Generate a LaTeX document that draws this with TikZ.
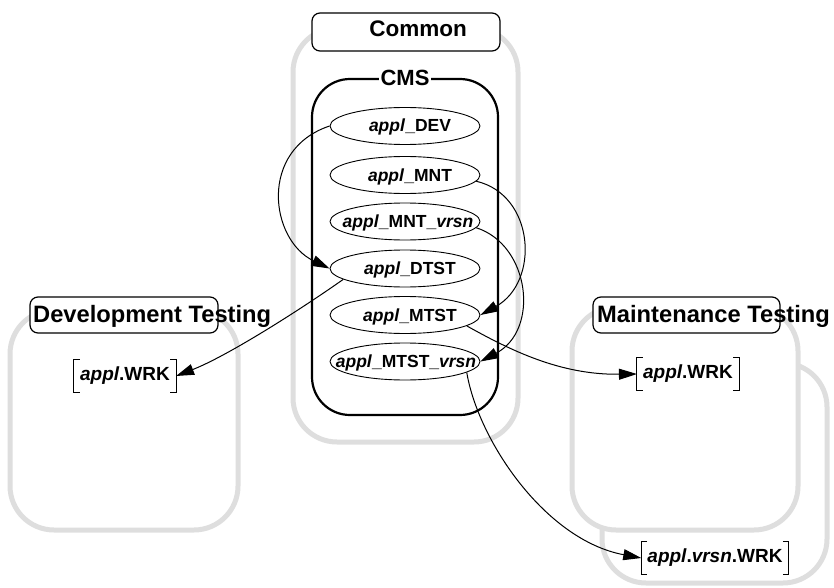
\documentclass[tikz,border=0pt]{standalone}
\usepackage{fontspec}
\setmainfont{Liberation Sans}
\usetikzlibrary{shapes.geometric,arrows.meta}
\definecolor{boxgrey}{RGB}{222,222,222}
\begin{document}
\begin{tikzpicture}[x=1pt,y=-1pt,
  greybox/.style={draw=boxgrey, line width=5pt, rounded corners=44pt, fill=white, inner sep=0pt},
  lblbox/.style={draw, line width=1.2pt, rounded corners=8pt, fill=white, inner sep=0pt},
  cmsbox/.style={draw, line width=2.2pt, rounded corners=38pt, inner sep=0pt},
  ellnode/.style={ellipse, draw, line width=0.9pt, minimum width=150pt, minimum height=37pt, inner sep=0pt},
  elltext/.style={font=\bfseries\fontsize{17.5}{19}\selectfont, inner sep=0pt, anchor=base},
  title/.style={font=\bfseries\fontsize{23.7}{26}\selectfont, inner sep=0pt},
  wrk/.style={font=\bfseries\fontsize{19}{21}\selectfont, text height=20pt, text depth=12pt, inner xsep=6pt, inner ysep=0pt, anchor=base},
  bracket/.style={line width=1pt},
  conn/.style={line width=1pt, -{Triangle[length=18pt,width=11pt]}}
]
\useasboundingbox (0,0) rectangle (834,588);

% grey containers
\node[greybox, minimum width=225pt, minimum height=414pt] (common) at (405.5,235) {};
\node[greybox, minimum width=228pt, minimum height=220pt] (devbox) at (124,420) {};
\node[greybox, minimum width=225pt, minimum height=220pt] (mbox2) at (714.5,473) {};
\node[greybox, minimum width=226pt, minimum height=223pt] (mbox1) at (685,418.5) {};

% label boxes
\node[lblbox, minimum width=188pt, minimum height=38pt] (commonlbl) at (406,32) {};
\node[title, anchor=base, font=\bfseries\fontsize{22.5}{25}\selectfont] (commontxt) at (418,37) {Common};
\node[lblbox, minimum width=188pt, minimum height=36pt] (devlbl) at (124,315) {};
\node[title, anchor=base west] (devtxt) at (33,322) {Development Testing};
\node[lblbox, minimum width=187pt, minimum height=36pt] (mlbl) at (686.5,315) {};
\node[title, anchor=base west] (mtxt) at (597,322) {Maintenance Testing};

% CMS
\node[cmsbox, minimum width=186pt, minimum height=336pt] (cms) at (405,247) {};
\node[fill=white, inner xsep=2pt, inner ysep=1pt, font=\bfseries\fontsize{22}{25}\selectfont] (cmstxt) at (cms.north) {CMS};

% ellipses
\node[ellnode] (dev) at (405,126) {};
\node[elltext] (devt) at (410,132) {\textit{appl}\_DEV};
\node[ellnode] (mnt) at (405,175) {};
\node[elltext] (mntt) at (410,181) {\textit{appl}\_MNT};
\node[ellnode] (mntv) at (405,221.5) {};
\node[elltext] (mntvt) at (408,227.5) {\textit{appl}\_MNT\_\textit{vrsn}};
\node[ellnode] (dtst) at (405,268.5) {};
\node[elltext] (dtstt) at (410,274.5) {\textit{appl}\_DTST};
\node[ellnode] (mtst) at (405,315) {};
\node[elltext] (mtstt) at (410,321) {\textit{appl}\_MTST};
\node[ellnode] (mtstv) at (405,361.5) {};
\node[elltext] (mtstvt) at (406,367.5) {\textit{appl}\_MTST\_\textit{vrsn}};

% work areas
\node[wrk] (devwrk) at (125,380) {\textit{appl}.WRK};
\node[wrk] (mwrk) at (688,378) {\textit{appl}.WRK};
\node[wrk] (vwrk) at (715,562) {\textit{appl}.\textit{vrsn}.WRK};
\foreach \n in {devwrk,mwrk,vwrk}{
  \draw[bracket] ([xshift=6pt]\n.north west) -- (\n.north west) -- (\n.south west) -- ([xshift=6pt]\n.south west);
  \draw[bracket] ([xshift=-6pt]\n.north east) -- (\n.north east) -- (\n.south east) -- ([xshift=-6pt]\n.south east);
}

% connectors
\draw[conn] (dev.west) .. controls (258,150) and (270,240) .. (dtst.west);
\draw[conn] (mnt.-5) .. controls (535,195) and (540,282) .. (mtst.east);
\draw[conn] (mntv.-5) .. controls (530,245) and (540,330) .. (mtstv.east);
\draw[conn] (dtst.190) .. controls (294,314) and (225,357) .. (devwrk.east);
\draw[conn] (mtst.-10) .. controls (510,350) and (560,375) .. (mwrk.west);
\draw[conn] (mtstv.-10) .. controls (478,440) and (545,540) .. (vwrk.west);
\end{tikzpicture}
\end{document}
